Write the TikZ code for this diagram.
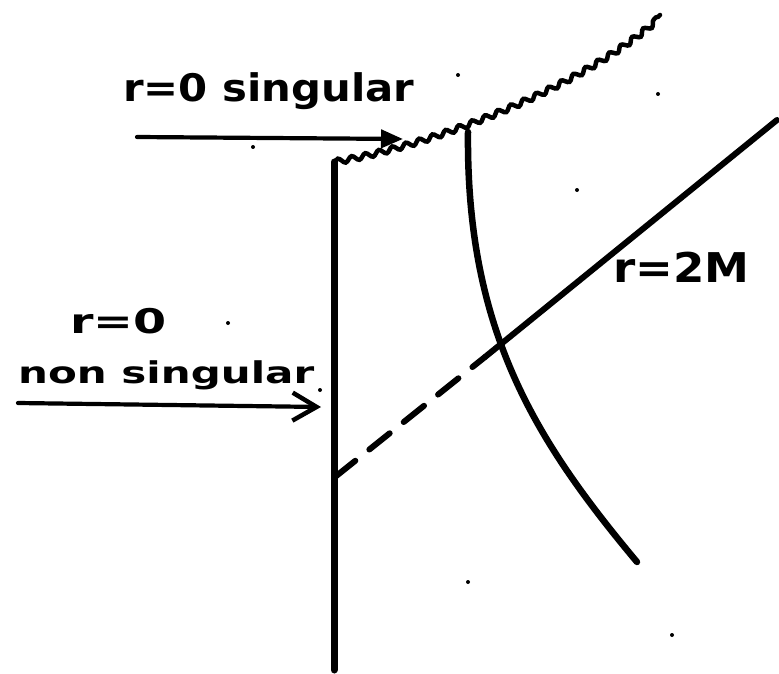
\documentclass[tikz,border=0pt]{standalone}
\usepackage{fontspec}
\setmainfont{DejaVu Sans}
\newfontfamily\handfont[FakeStretch=1.1]{DejaVu Sans}
\newfontfamily\handwide[FakeStretch=1.4]{DejaVu Sans}
\usetikzlibrary{arrows.meta, decorations.pathmorphing}
\tikzset{
  pen/.style={line width=7pt, line cap=round, line join=round},
  scrawl/.style={inner sep=0pt, anchor=base west},
  pointer/.style={line width=4.2pt, line cap=round}
}
\begin{document}
\begin{tikzpicture}[x=1pt, y=-1pt]
        \useasboundingbox (0,0) rectangle (779,674);
        % labels
        \node[scrawl, font=\handfont\bfseries\fontsize{38}{40}\selectfont] (singtxt) at (123,102) {r=0 singular};
        \node[scrawl, font=\handwide\bfseries\fontsize{34}{36}\selectfont] (rzero) at (70,333) {r=0};
        \node[scrawl, font=\handwide\bfseries\fontsize{30}{32}\selectfont] (nonsing) at (18,383) {non singular};
        \node[scrawl, font=\handfont\bfseries\fontsize{41}{43}\selectfont] (horizon) at (613,282) {r=2M};
        % points
        \coordinate (origin top) at (334,162);
        \coordinate (origin bottom) at (334,670);
        \coordinate (sing end) at (660,15);
        \coordinate (obs top) at (468,132);
        \coordinate (obs bottom) at (637,562);
        \coordinate (cross) at (485,357);
        \coordinate (meet) at (335,477);
        \coordinate (horizon end) at (777,120);
        \coordinate (ptrA start) at (137,137); \coordinate (ptrA end) at (403,139);
        \coordinate (ptrB start) at (18,403); \coordinate (ptrB end) at (321,407);
        % r=0 lines
        \draw[pen] (origin bottom) -- (origin top);
        \draw[line width=4.5pt, line cap=round, decorate,
              decoration={snake, amplitude=2.6pt, segment length=14pt}]
            (origin top) .. controls (434,145) and (585,85) .. (sing end);
        % world line and horizon
        \draw[pen, line width=6.5pt] (obs top) .. controls (466,330) and (535,440) .. (obs bottom);
        \draw[pen, line width=6pt] (horizon end) -- (cross);
        \draw[pen, line width=6pt, dash pattern=on 26pt off 18pt] (meet) -- (cross);
        % arrows
        \draw[pointer, -{Triangle[length=22pt, width=18pt]}] (ptrA start) -- (ptrA end);
        \draw[pointer, -{Straight Barb[length=24pt, width=28pt, line width=4.5pt]}] (ptrB start) -- (ptrB end);
        % specks
        \foreach \p in {(458,75), (658,94), (577,190), (253,147), (228,323), (320,390), (468,582), (672,635)}
            \fill \p circle (2);
    \end{tikzpicture}
\end{document}
